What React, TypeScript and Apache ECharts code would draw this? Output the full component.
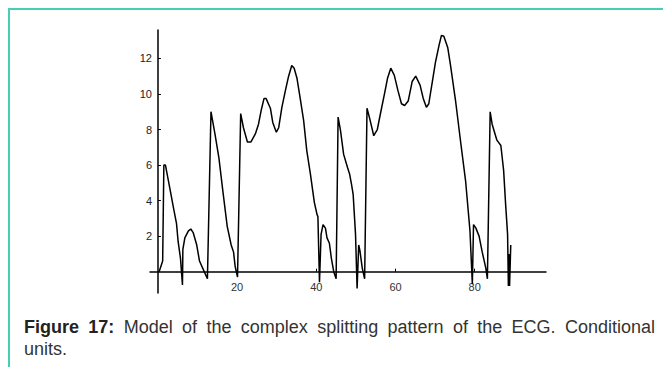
import React, { useEffect, useRef } from "react";
import * as echarts from "echarts";

// Model ECG curve (conditional units)
const xValues: number[] = [
  0.3, 1.2, 1.5, 1.9, 3.0, 4.0, 4.7, 5.1, 5.7, 6.2, 6.3, 6.8, 7.7, 8.3, 8.9, 9.8, 10.5, 11.3, 12.5,
  13.4, 14.4, 15.4, 16.5, 17.5, 18.5, 19.1, 19.5, 20.1,
  20.9, 21.6, 22.6, 23.5, 24.6, 25.4, 26.1, 26.8, 27.3, 28.4, 29.0, 29.9, 30.5, 31.3, 32.2, 33.0,
  33.8, 34.4, 35.1, 35.9, 36.8, 37.6, 38.5, 39.5, 40.2, 40.4, 40.8,
  41.2, 41.7, 42.3, 42.7, 43.3, 43.8, 44.4, 45.0,
  45.5, 46.1, 46.9, 47.9, 48.4, 48.9, 49.3, 49.9, 50.3,
  50.7, 51.0, 51.6, 52.2,
  52.8, 53.5, 54.5, 55.4, 56.2, 57.3, 58.0, 58.8, 59.7, 60.6, 61.5, 62.3, 63.2, 64.2, 65.1, 66.2,
  67.0, 67.8, 68.4, 69.3, 70.1, 71.0, 71.6, 72.2, 73.2, 73.9, 75.2, 76.5, 77.7, 78.8, 79.4,
  79.7, 80.3, 81.1, 81.9, 82.8, 83.2,
  83.9, 84.4, 85.6, 86.6, 87.3, 87.8, 88.3, 88.5, 88.7, 88.8, 89.1,
];
const yValues: number[] = [
  0, 0.6, 6.0, 6.0, 4.7, 3.5, 2.7, 1.7, 0.75, -0.75, 1.25, 1.9, 2.3, 2.4, 2.2, 1.5, 0.6, 0.2, -0.4,
  9.0, 7.75, 6.4, 4.35, 2.55, 1.5, 1.1, 0.3, -0.3,
  8.9, 8.1, 7.3, 7.3, 7.75, 8.3, 9.1, 9.75, 9.75, 9.2, 8.4, 7.85, 8.1, 9.25, 10.2, 11.0,
  11.6, 11.45, 10.9, 9.8, 8.5, 6.8, 5.5, 3.9, 3.2, 3.1, -0.6,
  2.1, 2.65, 2.45, 1.9, 1.6, 0.75, 0, -0.4,
  8.7, 7.95, 6.6, 5.85, 5.5, 4.9, 4.35, 2.1, -0.95,
  1.5, 1.2, 0.2, -0.4,
  9.2, 8.6, 7.65, 8.0, 8.9, 10.1, 10.9, 11.45, 11.05, 10.2, 9.45, 9.35, 9.6, 10.7, 11.0, 10.5,
  9.75, 9.25, 9.45, 10.7, 11.8, 12.75, 13.3, 13.25, 12.6, 11.6, 9.55, 7.2, 5.1, 2.3, -0.7,
  2.65, 2.45, 2.0, 1.1, 0.2, -0.4,
  9.0, 8.3, 7.4, 7.1, 5.7, 3.8, 2.1, -0.8, 1.0, -0.8, 1.5,
];
const xTickValues: number[] = [20, 40, 60, 80];
const yTickValues: number[] = [2, 4, 6, 8, 10, 12];

const captionBold: string[] = ["Figure", "17:"];
const captionLine1: string[] = ["Model", "of", "the", "complex", "splitting", "pattern", "of", "the", "ECG.", "Conditional"];
const captionLine2 = "units.";

const FONT = '"Liberation Sans", Arial, Helvetica, sans-serif';
const CAP_SIZE = 18;

function buildCaption(): any[] {
  const left = 24;
  const right = 655;
  const canvas = document.createElement("canvas");
  const ctx = canvas.getContext("2d")!;
  const words = [
    ...captionBold.map((w) => ({ w, bold: true })),
    ...captionLine1.map((w) => ({ w, bold: false })),
  ];
  const widths = words.map(({ w, bold }) => {
    ctx.font = `${bold ? "bold " : ""}${CAP_SIZE}px ${FONT}`;
    return ctx.measureText(w).width;
  });
  const total = widths.reduce((a, b) => a + b, 0);
  const gap = (right - left - total) / (words.length - 1);
  const els: any[] = [];
  let x = left;
  words.forEach(({ w, bold }, i) => {
    els.push({
      type: "text",
      x,
      y: 327,
      style: {
        text: w,
        fill: bold ? "#222222" : "#333333",
        font: `${bold ? "bold " : ""}${CAP_SIZE}px ${FONT}`,
        verticalAlign: "middle",
        align: "left",
      },
    });
    x += widths[i] + gap;
  });
  els.push({
    type: "text",
    x: left,
    y: 349,
    style: {
      text: captionLine2,
      fill: "#333333",
      font: `${CAP_SIZE}px ${FONT}`,
      verticalAlign: "middle",
      align: "left",
    },
  });
  return els;
}

export default function App() {
  const ref = useRef<HTMLDivElement>(null);
  useEffect(() => {
    if (!ref.current) return;
    const chart = echarts.init(ref.current, null, { renderer: "svg" });
    const data = xValues.map((x, i) => [x, yValues[i]]);
    chart.setOption({
      animation: false,
      backgroundColor: "#ffffff",
      grid: { left: 150, right: 117, top: 30, bottom: 74, containLabel: false },
      xAxis: {
        type: "value",
        min: -2,
        max: 98,
        splitLine: { show: false },
        axisLine: { show: true, onZero: true, lineStyle: { color: "#000", width: 1.5 } },
        axisTick: { show: true, inside: true, length: 3, customValues: xTickValues, lineStyle: { color: "#000" } },
        axisLabel: {
          customValues: xTickValues,
          margin: -12,
          color: "#333",
          fontSize: 11,
          fontFamily: FONT,
        },
      },
      yAxis: {
        type: "value",
        min: -1.2,
        max: 13.6,
        splitLine: { show: false },
        axisLine: { show: true, onZero: true, lineStyle: { color: "#000", width: 1.5 } },
        axisTick: { show: true, inside: true, length: 3, customValues: yTickValues, lineStyle: { color: "#000" } },
        axisLabel: {
          customValues: yTickValues,
          margin: -2,
          color: "#222",
          fontSize: 11,
          fontFamily: FONT,
        },
      },
      series: [
        {
          type: "line",
          data,
          showSymbol: false,
          symbol: "none",
          lineStyle: { color: "#000", width: 1.5 },
          z: 3,
        },
      ],
      graphic: [
        { type: "line", shape: { x1: 8, y1: 9, x2: 663, y2: 9 }, style: { stroke: "#45cfb4", lineWidth: 2 } },
        { type: "line", shape: { x1: 9, y1: 8, x2: 9, y2: 367 }, style: { stroke: "#45cfb4", lineWidth: 2 } },
        ...buildCaption(),
      ],
    });
    return () => chart.dispose();
  }, []);
  return (
    <div
      ref={ref}
      style={{ position: "fixed", left: 0, top: 0, width: 663, height: 367, background: "#fff" }}
    />
  );
}
